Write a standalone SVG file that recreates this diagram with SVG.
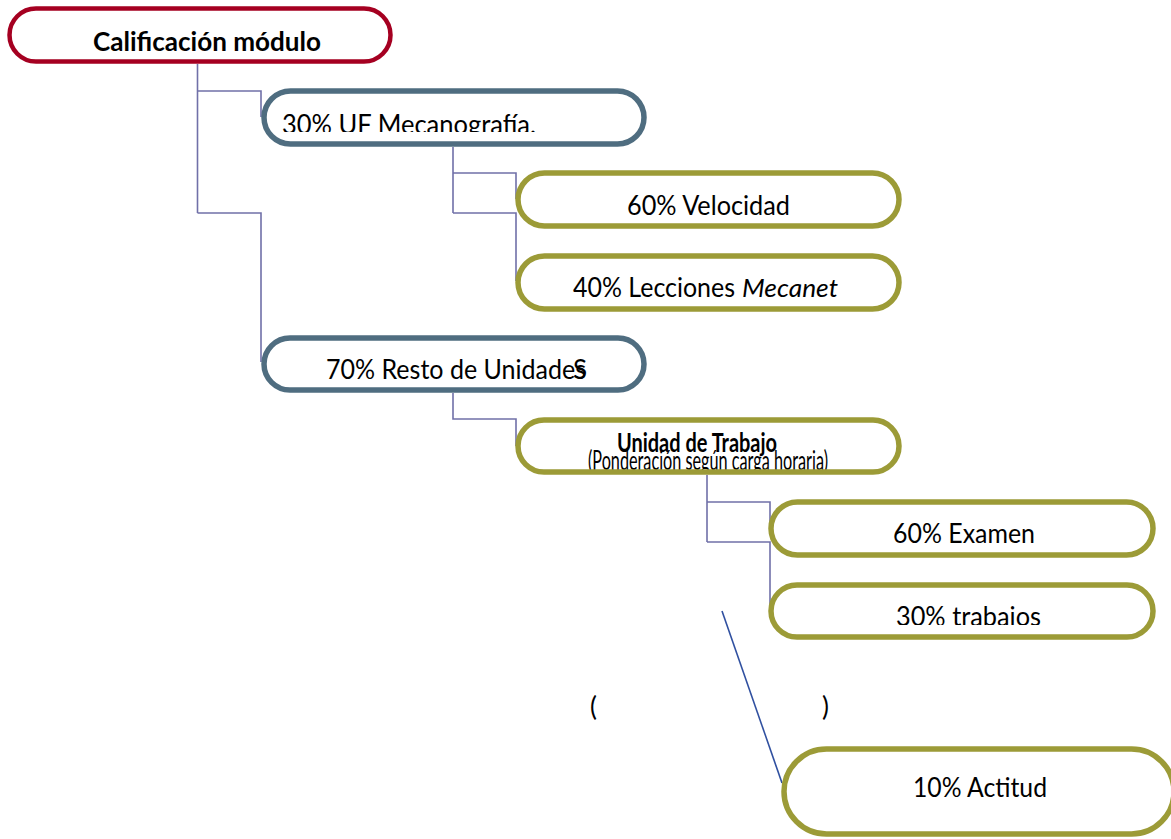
<svg xmlns="http://www.w3.org/2000/svg" width="1171" height="839" viewBox="0 0 1171 839">
<style>
.box{fill:#fff;}
.red{stroke:#A50021;stroke-width:4.5;}
.slate{stroke:#4F6D80;stroke-width:5.5;}
.olive{stroke:#9C9B37;stroke-width:5.5;}
.t{font-family:Lato,"Open Sans",sans-serif;font-size:26px;fill:#000;}
.b{font-weight:bold;}
.con{fill:none;stroke:#7070A8;stroke-width:1.6;}
</style>
<defs>
<clipPath id="c2"><rect x="260" y="85" width="400" height="47"/></clipPath>
<clipPath id="c6"><rect x="515" y="415" width="390" height="55"/></clipPath>
<clipPath id="c8"><rect x="765" y="580" width="400" height="45"/></clipPath>
</defs>
<g id="connectors">
<path class="con" d="M197.5 64 V213 M197.5 91 H261 V117 M197.5 213 H261 V362"/>
<path class="con" d="M453 147 V213 M453 173 H516 V199 M453 213 H516 V281"/>
<path class="con" d="M453 393 V419 H516 V446"/>
<path class="con" d="M707 475 V542 M707 502 H770 V528 M707 542 H770 V610"/>
<line x1="722" y1="611" x2="782" y2="783" stroke="#3050A0" stroke-width="1.6"/>
</g>
<g id="n1">
<rect class="box red" x="9.5" y="8.5" width="381" height="53" rx="26.5"/>
<text class="t b" x="93" y="51" textLength="228" lengthAdjust="spacingAndGlyphs">Calificación módulo</text>
</g>
<g id="n2">
<rect class="box slate" x="264" y="91" width="380" height="53" rx="26.5"/>
<text class="t" x="282" y="134" textLength="254" lengthAdjust="spacingAndGlyphs" clip-path="url(#c2)">30% UF Mecanografía.</text>
</g>
<g id="n3">
<rect class="box olive" x="518" y="173" width="381" height="53" rx="26.5"/>
<text class="t" x="627" y="215" textLength="163" lengthAdjust="spacingAndGlyphs">60% Velocidad</text>
</g>
<g id="n4">
<rect class="box olive" x="518" y="256" width="381" height="53" rx="26.5"/>
<text class="t" x="573" y="297" textLength="162" lengthAdjust="spacingAndGlyphs">40% Lecciones</text>
<text class="t" x="742" y="297" font-style="italic" textLength="96" lengthAdjust="spacingAndGlyphs">Mecanet</text>
</g>
<g id="n5">
<rect class="box slate" x="264" y="338" width="380" height="52" rx="26"/>
<text class="t" x="326" y="379" textLength="260" lengthAdjust="spacingAndGlyphs">70% Resto de Unidades</text>
<text class="t" x="573" y="379">S</text>
</g>
<g id="n6">
<text class="t b" x="617" y="452" font-size="17" textLength="160" lengthAdjust="spacingAndGlyphs">Unidad de Trabajo</text>
<text class="t" x="588" y="470" font-size="14" textLength="240" lengthAdjust="spacingAndGlyphs" clip-path="url(#c6)">(Ponderación según carga  horaria)</text>
<rect class="olive" fill="none" x="518" y="420" width="381" height="52" rx="26"/>
</g>
<g id="n7">
<rect class="box olive" x="771" y="502" width="382" height="53" rx="26.5"/>
<text class="t" x="893" y="543" textLength="142" lengthAdjust="spacingAndGlyphs">60% Examen</text>
</g>
<g id="n8">
<rect class="box olive" x="771" y="585" width="382" height="52" rx="26"/>
<text class="t" x="896" y="626" textLength="145" lengthAdjust="spacingAndGlyphs" clip-path="url(#c8)">30% trabajos</text>
</g>
<g id="parens">
<text class="t" x="590" y="716" font-size="9" fill="#333">(</text>
<text class="t" x="822" y="716" font-size="9" fill="#333">)</text>
</g>
<g id="n9">
<rect class="box olive" stroke-width="6.5" x="784" y="749" width="390" height="85" rx="42.5"/>
<text class="t" x="913" y="797" textLength="134" lengthAdjust="spacingAndGlyphs">10% Actitud</text>
</g>
</svg>
